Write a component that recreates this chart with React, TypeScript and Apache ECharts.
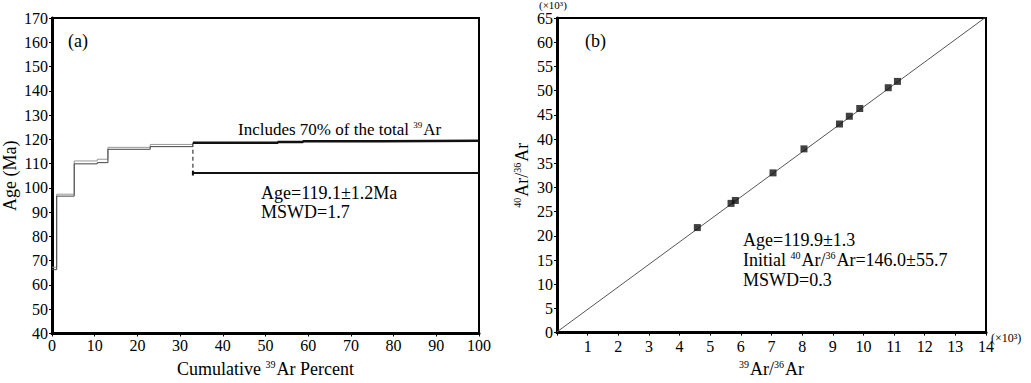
import React, { useEffect, useRef } from "react";
import * as echarts from "echarts";

// Age spectrum (a)
const stepBounds = [0, 1.1, 5.2, 10.6, 13.1, 23.0, 33.0];
const stepUpper = [67.3, 97.4, 111.1, 111.8, 116.7, 117.9];
const stepLower = [66.3, 96.6, 109.9, 110.4, 115.9, 117.0];
const plateauBounds = [33.0, 52.9, 58.8, 77.5, 100];
const plateauAges = [118.6, 118.9, 119.2, 119.4];
const plateauLowerAge = 106.1;

// Isochron (b)
const isoX = [4.58, 5.68, 5.82, 7.05, 8.06, 9.22, 9.54, 9.88, 10.81, 11.11];
const isoY = [21.7, 26.7, 27.3, 33.0, 37.96, 43.1, 44.7, 46.3, 50.6, 51.9];
const fitX = [0, 14];
const fitY = [0.15, 65.2];

const ageTicks = { min: 40, max: 170, interval: 10 };
const pctTicks = { min: 0, max: 100, interval: 10 };
const isoXTicks = { min: 0, max: 14, interval: 1 };
const isoYTicks = { min: 0, max: 65, interval: 5 };

const FONT = "'Liberation Serif', 'Times New Roman', serif";

function stepLine(bounds: number[], vals: number[]) {
  const pts: number[][] = [];
  for (let i = 0; i < vals.length; i++) {
    pts.push([bounds[i], vals[i]]);
    pts.push([bounds[i + 1], vals[i]]);
  }
  return pts;
}

function rich(size: number, lh?: number) {
  return {
    sup: { fontSize: Math.round(size * 0.55), verticalAlign: "top", fontFamily: FONT, color: "#000", padding: [0, 1, Math.round(size * 0.5), 0], lineHeight: lh },
    n: { fontSize: size, fontFamily: FONT, color: "#000", lineHeight: lh },
  };
}

export default function App() {
  const ref = useRef<HTMLDivElement>(null);
  useEffect(() => {
    if (!ref.current) return;
    const chart = echarts.init(ref.current, null, { renderer: "svg", width: 1031, height: 383 });
    const axisLabel = { color: "#000", fontSize: 16, fontFamily: FONT };
    const axisLine = { show: true, lineStyle: { color: "#000", width: 3 } };
    const axisTick = { show: true, length: 3, lineStyle: { color: "#000", width: 1 } };
    const nameStyle = { rich: rich(18), fontSize: 18, fontFamily: FONT, color: "#000" };
    const first = stepBounds[stepBounds.length - 1];
    const option: any = {
      animation: false,
      textStyle: { fontFamily: FONT },
      grid: [
        { left: 52, right: 552, top: 18, bottom: 42, show: true, borderColor: "#000", borderWidth: 2, containLabel: false },
        { left: 557, right: 45, top: 18, bottom: 42, show: true, borderColor: "#000", borderWidth: 2, containLabel: false },
      ],
      xAxis: [
        {
          type: "value", gridIndex: 0, ...pctTicks,
          axisLine, axisTick, splitLine: { show: false },
          axisLabel: { ...axisLabel, margin: 4 },
          name: "{n|Cumulative }{sup|39}{n|Ar Percent}", nameLocation: "middle", nameGap: 26,
          nameTextStyle: nameStyle,
        },
        {
          type: "value", gridIndex: 1, ...isoXTicks,
          axisLine, axisTick, splitLine: { show: false },
          axisLabel: { ...axisLabel, margin: 6, formatter: (v: number) => (v === 0 ? "" : String(v)) },
          name: "{sup|39}{n|Ar/}{sup|36}{n|Ar}", nameLocation: "middle", nameGap: 26,
          nameTextStyle: nameStyle,
        },
      ],
      yAxis: [
        {
          type: "value", gridIndex: 0, ...ageTicks,
          axisLine, axisTick, splitLine: { show: false },
          axisLabel: { ...axisLabel, margin: 4 },
          name: "Age (Ma)", nameLocation: "middle", nameGap: 33,
          nameTextStyle: { fontSize: 18, fontFamily: FONT, color: "#000" },
        },
        {
          type: "value", gridIndex: 1, ...isoYTicks,
          axisLine, axisTick, splitLine: { show: false },
          axisLabel: { ...axisLabel, margin: 4 },
          name: "{sup|40}{n|Ar/}{sup|36}{n|Ar}", nameLocation: "middle", nameGap: 26,
          nameTextStyle: nameStyle,
        },
      ],
      series: [
        {
          type: "line", xAxisIndex: 0, yAxisIndex: 0, data: stepLine(stepBounds, stepUpper),
          symbol: "none", lineStyle: { color: "#999", width: 1 }, z: 3,
        },
        {
          type: "line", xAxisIndex: 0, yAxisIndex: 0, data: stepLine(stepBounds, stepLower),
          symbol: "none", lineStyle: { color: "#444", width: 1 }, z: 3,
        },
        {
          type: "line", xAxisIndex: 0, yAxisIndex: 0, data: stepLine(plateauBounds, plateauAges),
          symbol: "none", lineStyle: { color: "#111", width: 2.5 }, z: 4,
        },
        {
          type: "line", xAxisIndex: 0, yAxisIndex: 0,
          data: [[first, plateauLowerAge], [100, plateauLowerAge]],
          symbol: "none", lineStyle: { color: "#111", width: 2 }, z: 4,
        },
        {
          type: "line", xAxisIndex: 0, yAxisIndex: 0,
          data: [[first, plateauLowerAge - 1], [first, plateauLowerAge + 1]],
          symbol: "none", lineStyle: { color: "#111", width: 2 }, z: 4,
        },
        {
          type: "line", xAxisIndex: 0, yAxisIndex: 0,
          data: [[first, plateauAges[0]], [first, plateauLowerAge]],
          symbol: "none", lineStyle: { color: "#111", width: 1, type: [4, 3] }, z: 4,
        },
        {
          type: "line", xAxisIndex: 1, yAxisIndex: 1,
          data: fitX.map((x, i) => [x, fitY[i]]),
          symbol: "none", lineStyle: { color: "#555", width: 1 }, z: 3,
        },
        {
          type: "scatter", xAxisIndex: 1, yAxisIndex: 1,
          data: isoX.map((x, i) => [x, isoY[i]]),
          symbol: "rect", symbolSize: 7, itemStyle: { color: "#111" }, z: 5,
        },
      ],
      graphic: [
        { type: "text", left: 68, top: 32, style: { text: "(a)", fontSize: 18, fontFamily: FONT, fill: "#000" } },
        { type: "text", left: 585, top: 32, style: { text: "(b)", fontSize: 18, fontFamily: FONT, fill: "#000" } },
        {
          type: "text", left: 238, top: 120,
          style: { text: "{n|Includes 70% of the total }{sup|39}{n|Ar}", rich: rich(17), fill: "#000" },
        },
        {
          type: "text", left: 261, top: 183,
          style: { text: "Age=119.1±1.2Ma\nMSWD=1.7", fontSize: 18, fontFamily: FONT, lineHeight: 19, fill: "#000" },
        },
        {
          type: "text", left: 743, top: 231,
          style: {
            text: "{n|Age=119.9±1.3}\n{n|Initial }{sup|40}{n|Ar/}{sup|36}{n|Ar=146.0±55.7}\n{n|MSWD=0.3}",
            rich: rich(18, 20),
            fill: "#000",
          },
        },
        { type: "text", left: 539, top: -1, style: { text: "(×10³)", fontSize: 11, fontFamily: FONT, fill: "#000" } },
        { type: "text", left: 991, top: 332, style: { text: "(×10³)", fontSize: 12, fontFamily: FONT, fill: "#000" } },
      ],
    };
    chart.setOption(option);
    return () => chart.dispose();
  }, []);
  return <div ref={ref} style={{ position: "absolute", left: 0, top: 0, width: 1031, height: 383 }} />;
}
